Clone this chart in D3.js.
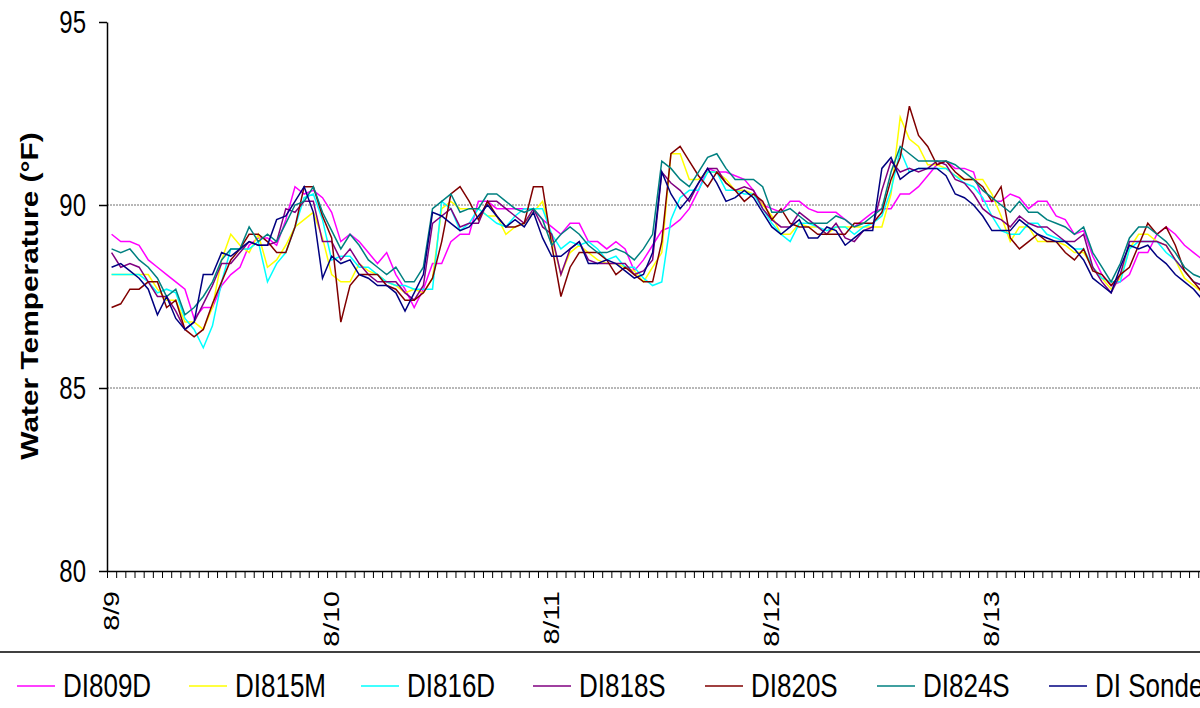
<!DOCTYPE html>
<html>
<head>
<meta charset="utf-8">
<script src="https://cdn.jsdelivr.net/npm/d3@7"></script>
<style>
  body { margin: 0; background: #fff; }
  svg { display: block; font-family: "Liberation Sans", Arial, sans-serif; }
</style>
</head>
<body>
<script>
// hourly readings, 8/9 0:00 onwards
var dayLabels = ["8/9", "8/10", "8/11", "8/12", "8/13"];
var yTicks = [80, 85, 90, 95];
var seriesNames = ["DI809D", "DI815M", "DI816D", "DI818S", "DI820S", "DI824S", "DI Sonde"];
var seriesColors = ["#ff00ff", "#ffff00", "#00ffff", "#800080", "#800000", "#008080", "#000080"];

var di809d = [89.2,89.0,89.0,88.9,88.5,88.3,88.1,87.9,87.7,86.9,87.2,87.2,87.8,88.1,88.3,88.9,89.1,89.1,88.9,89.6,90.5,90.3,90.4,90.2,
  89.8,89.0,89.2,89.0,88.7,88.4,88.7,88.1,87.7,87.2,87.7,88.4,88.4,89.0,89.2,89.2,90.1,90.1,89.9,89.9,89.9,89.9,89.9,89.6,
  89.4,89.2,89.5,89.5,89.0,89.0,88.8,89.0,88.8,88.2,88.5,88.9,89.3,89.4,89.6,89.9,90.4,91.0,90.9,90.9,90.8,90.7,90.4,90.0,
  89.9,89.8,90.1,90.1,89.9,89.8,89.8,89.8,89.6,89.4,89.6,89.8,89.9,89.9,90.3,90.3,90.5,90.8,91.1,91.2,91.0,91.0,90.9,90.1,
  90.1,90.1,90.3,90.2,89.9,90.1,90.1,89.7,89.6,89.2,89.3,88.6,88.1,87.8,87.9,88.1,88.7,88.7,89.2,89.4,89.2,88.9,88.7,88.5];
var di815m = [88.1,88.1,88.1,88.1,88.1,87.7,87.4,87.4,86.8,86.8,86.6,87.2,88.5,89.2,88.9,88.7,89.2,88.3,88.5,88.9,89.4,89.6,89.8,89.1,
  88.1,87.9,87.9,88.4,88.2,88.1,87.9,87.8,87.6,87.7,87.6,88.0,89.9,90.1,89.9,89.9,89.9,89.7,89.7,89.2,89.4,89.5,89.8,90.1,
  89.1,88.1,88.7,88.9,88.7,88.5,88.4,88.4,88.3,88.2,87.9,88.3,88.7,91.4,91.4,90.7,90.7,90.9,90.9,90.7,90.4,90.4,90.3,90.0,
  89.7,89.2,89.2,89.5,89.4,89.4,89.2,89.4,89.4,89.4,89.4,89.4,89.4,90.3,92.4,91.8,91.6,91.1,91.1,91.0,90.8,90.7,90.7,90.7,
  90.3,89.7,89.0,89.4,89.4,89.0,89.0,89.0,88.9,88.7,88.7,88.3,88.0,87.7,88.0,88.8,89.2,89.2,89.0,88.9,88.5,88.0,87.8,87.6];
var di816d = [88.1,88.1,88.1,88.1,87.9,87.6,87.7,87.6,86.9,86.6,86.1,86.7,87.9,88.8,88.8,88.8,89.0,87.9,88.4,88.7,89.4,90.2,90.3,89.6,
  88.5,88.6,88.6,88.3,88.3,88.1,87.9,87.8,87.8,87.7,87.7,87.7,90.1,89.9,89.3,89.5,89.9,89.7,89.5,89.4,89.7,89.9,89.9,89.9,
  89.2,88.8,89.0,88.9,89.0,88.8,88.5,88.6,88.3,88.3,88.0,87.8,87.9,89.6,90.2,90.4,90.4,90.9,90.9,90.4,90.4,90.3,90.3,89.9,
  89.5,89.2,89.0,89.5,89.5,89.4,89.3,89.4,89.4,89.2,89.4,89.5,89.7,90.4,91.5,90.9,91.0,91.0,91.0,91.0,90.8,90.6,90.5,90.2,
  89.7,89.3,89.2,89.2,89.5,89.5,89.2,89.1,89.0,88.8,88.8,88.3,88.0,87.9,87.9,88.8,89.0,89.0,89.0,88.7,88.5,88.2,87.9,87.8];
var di818s = [88.7,88.3,88.4,88.3,87.9,87.5,87.5,87.1,86.6,86.8,87.3,87.8,88.4,88.4,88.7,89.0,88.9,88.9,89.0,89.9,89.8,90.1,90.1,89.0,
  89.0,88.5,88.8,88.4,88.1,87.9,87.9,87.9,87.6,87.4,87.8,89.5,89.7,89.9,89.4,89.5,89.5,90.1,90.1,89.9,89.7,89.5,89.9,89.4,
  89.2,88.1,88.8,89.0,88.5,88.4,88.4,88.4,88.4,88.1,88.2,88.5,90.9,90.6,90.4,90.1,90.6,91.0,91.0,90.6,90.4,90.5,90.4,89.9,
  89.6,89.4,89.4,89.8,89.6,89.4,89.2,89.5,89.1,89.0,89.3,89.4,90.4,91.2,90.9,91.0,90.9,91.0,91.2,91.1,90.7,90.6,90.3,89.9,
  89.7,89.6,89.4,89.7,89.5,89.4,89.4,89.2,89.0,89.0,89.2,88.3,87.9,87.6,88.1,89.0,89.0,89.0,89.0,88.9,88.5,88.2,87.9,87.8];
var di820s = [87.2,87.3,87.7,87.7,87.9,87.9,87.2,87.4,86.6,86.4,86.6,87.3,87.9,88.5,88.8,89.2,89.2,89.0,88.7,88.7,89.4,90.5,90.5,89.7,
  89.1,86.8,87.8,88.1,88.1,88.1,87.8,87.7,87.4,87.4,87.6,88.0,89.0,90.3,90.5,90.1,89.6,90.1,89.7,89.4,89.4,89.5,90.5,90.5,
  88.9,87.5,88.3,88.7,88.7,88.7,88.5,88.1,88.3,88.1,87.9,87.9,89.0,91.4,91.6,91.2,90.8,90.5,90.9,90.6,90.4,90.1,90.3,90.1,
  89.6,89.9,89.5,89.4,89.4,89.2,89.2,89.2,89.2,89.5,89.5,89.5,89.8,90.7,91.3,92.7,91.9,91.6,91.1,91.2,90.9,90.7,90.7,90.5,
  90.1,90.5,89.1,88.8,89.0,89.2,89.0,89.0,88.7,88.5,88.8,88.2,88.1,87.8,88.1,88.3,88.9,89.5,89.2,89.4,88.9,88.2,87.9,87.6];
var di824s = [88.8,88.7,88.8,88.5,88.3,88.0,87.5,87.7,87.0,87.2,87.5,87.9,88.5,88.8,88.8,89.4,89.0,89.2,89.0,89.5,90.0,90.1,90.5,89.8,
  89.3,88.8,89.2,88.9,88.5,88.3,88.1,88.3,87.9,87.9,88.3,89.9,90.1,90.3,89.8,89.9,89.9,90.3,90.3,90.1,89.9,89.8,89.9,89.6,
  88.9,89.2,89.4,89.2,88.9,88.7,88.7,88.8,88.7,88.5,88.8,89.2,91.2,91.0,90.7,90.5,90.9,91.3,91.4,91.0,90.7,90.7,90.7,90.5,
  89.8,89.8,89.9,89.7,89.5,89.5,89.5,89.7,89.6,89.4,89.5,89.7,89.9,90.9,91.6,91.4,91.2,91.2,91.2,91.2,91.1,90.9,90.7,90.4,
  90.2,90.0,89.8,90.1,89.8,89.8,89.6,89.5,89.4,89.2,89.4,88.7,88.3,87.9,88.4,89.1,89.4,89.4,89.2,89.0,88.7,88.3,88.1,88.0];
var diSonde = [88.3,88.4,88.2,88.0,87.7,87.0,87.5,86.9,86.6,86.8,88.1,88.1,88.7,88.6,88.8,89.0,88.9,88.9,89.6,89.7,90.1,90.5,89.8,88.0,
  88.6,88.4,88.5,88.1,88.0,87.8,87.8,87.6,87.1,87.6,88.1,89.8,89.7,89.5,89.3,89.4,89.7,90.0,89.7,89.4,89.6,89.4,89.8,89.1,
  88.6,88.6,88.8,89.0,88.4,88.4,88.5,88.4,88.2,88.0,88.1,88.7,90.9,90.3,89.9,90.2,90.6,91.0,90.6,90.1,90.2,90.4,90.2,89.8,
  89.4,89.2,89.4,89.6,89.1,89.1,89.4,89.3,88.9,89.1,89.3,89.3,91.0,91.3,90.7,90.9,91.0,91.0,91.0,90.8,90.3,90.2,90.0,89.7,
  89.3,89.3,89.3,89.6,89.4,89.2,89.1,89.0,89.0,88.8,88.5,88.0,87.8,87.6,88.3,88.9,88.8,88.9,88.6,88.4,88.1,87.9,87.7,87.4];

var allSeries = [di809d, di815m, di816d, di818s, di820s, di824s, diSonde];

var width = 1200, height = 708;
var plotLeft = 107, plotTop = 22, plotBottom = 571;
var step = 9.17;          // px per hourly category
var nCats = 120;
var stretch = 1.3;        // text in the picture is drawn tall

var svg = d3.select("body").append("svg")
    .attr("width", width)
    .attr("height", height);

svg.append("rect").attr("width", width).attr("height", height).attr("fill", "#fff");

var x = d3.scaleLinear().domain([0, nCats]).range([plotLeft, plotLeft + nCats * step]);
var y = d3.scaleLinear().domain([80, 95]).range([plotBottom, plotTop]);

//dotted gridlines
svg.selectAll(".grid")
    .data([85, 90])
    .enter()
    .append("line")
    .attr("class", "grid")
    .attr("x1", plotLeft).attr("x2", width)
    .attr("y1", function(d){ return y(d); })
    .attr("y2", function(d){ return y(d); })
    .attr("stroke", "#707070")
    .attr("stroke-width", 1)
    .attr("stroke-dasharray", "2,1");

//series lines
var line = d3.line()
    .x(function(d, i){ return x(i + 0.5); })
    .y(function(d){ return y(d); });

svg.selectAll(".series")
    .data(allSeries)
    .enter()
    .append("path")
    .attr("class", "series")
    .attr("d", line)
    .attr("fill", "none")
    .attr("stroke", function(d, i){ return seriesColors[i]; })
    .attr("stroke-width", 1.5)
    .attr("stroke-linejoin", "miter");

//y axis
var yAxis = svg.append("g")
    .attr("transform", "translate(" + plotLeft + ",0)")
    .call(d3.axisLeft(y).tickValues(yTicks).tickSize(8).tickSizeOuter(0).tickFormat(""));
yAxis.select(".domain").attr("stroke", "#000").attr("stroke-width", 1.5);
yAxis.selectAll(".tick line").attr("stroke", "#000").attr("stroke-width", 1.5);

svg.selectAll(".ylab")
    .data(yTicks)
    .enter()
    .append("text")
    .attr("class", "ylab")
    .attr("text-anchor", "end")
    .attr("font-size", 24)
    .attr("transform", function(d){ return "translate(86," + (y(d) + 11) + ") scale(1," + stretch + ")"; })
    .text(function(d){ return d; });

//x axis, one tick per hour
var xAxis = svg.append("g")
    .attr("transform", "translate(0," + plotBottom + ")")
    .call(d3.axisBottom(x).tickValues(d3.range(0, nCats + 1)).tickSize(7).tickSizeOuter(0).tickFormat(""));
xAxis.select(".domain").attr("stroke", "#000").attr("stroke-width", 1.5);
xAxis.selectAll(".tick line").attr("stroke", "#000").attr("stroke-width", 1);

svg.selectAll(".xlab")
    .data(dayLabels)
    .enter()
    .append("text")
    .attr("class", "xlab")
    .attr("text-anchor", "end")
    .attr("font-size", 22)
    .attr("transform", function(d, i){
        return "translate(" + (x(i * 24 + 0.5) + 7) + ",591) scale(1," + stretch + ") rotate(-90)";
    })
    .text(function(d){ return d; });

//y title
svg.append("text")
    .attr("text-anchor", "middle")
    .attr("font-size", 23)
    .attr("font-weight", "bold")
    .attr("transform", "translate(38,296) scale(1," + stretch + ") rotate(-90)")
    .text("Water Temperature (°F)");

//legend
svg.append("line")
    .attr("x1", 0).attr("x2", width)
    .attr("y1", 652).attr("y2", 652)
    .attr("stroke", "#000").attr("stroke-width", 1.5);

var legend = svg.selectAll(".legend")
    .data(seriesNames)
    .enter()
    .append("g")
    .attr("class", "legend")
    .attr("transform", function(d, i){ return "translate(" + (17 + i * 172) + ",686)"; });

legend.append("line")
    .attr("x1", 0).attr("x2", 38)
    .attr("stroke", function(d, i){ return seriesColors[i]; })
    .attr("stroke-width", 1.5);

legend.append("text")
    .attr("font-size", 26)
    .attr("transform", "translate(46,11) scale(1," + stretch + ")")
    .text(function(d){ return d; });
</script>
</body>
</html>
